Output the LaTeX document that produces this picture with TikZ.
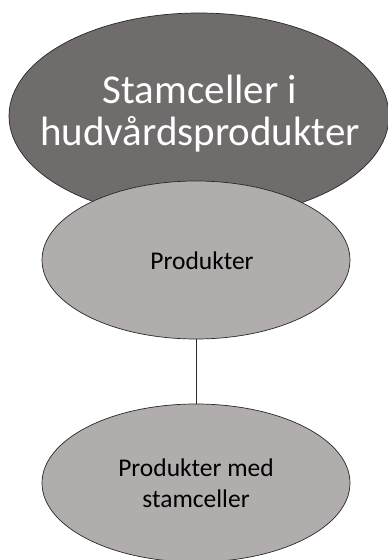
\documentclass[tikz,border=0pt]{standalone}
\usepackage{fontspec}
\setmainfont{Carlito}
\usetikzlibrary{shapes.geometric}
\definecolor{darkfill}{RGB}{112,108,108}
\definecolor{lightfill}{RGB}{177,173,173}
\definecolor{edge}{RGB}{40,40,40}
\tikzset{
  ellbase/.style={ellipse, draw=edge, line width=0.7pt, inner sep=0pt},
  bigell/.style={ellbase, fill=darkfill, minimum width=380pt, minimum height=206pt},
  smallell/.style={ellbase, fill=lightfill, minimum width=308pt, minimum height=158pt},
  bigtxt/.style={text=white, align=center, font=\fontsize{41}{42}\selectfont},
  smalltxt/.style={text=black, align=center, font=\fontsize{25.5}{31}\selectfont},
  conn/.style={draw=edge, line width=0.9pt}
}
\begin{document}
\begin{tikzpicture}[x=1pt,y=1pt]
\useasboundingbox (0,0) rectangle (388,560);
\fill[white] (0,0) rectangle (388,560);
\node[bigell] (top) at (199,444) {};
\node[bigtxt] (toptxt) at (200,446) {Stamceller i\\hudvårdsprodukter};
\node[smallell] (prod) at (196,300) {};
\node[smalltxt] (prodtxt) at (202,299) {Produkter};
\node[smallell] (med) at (196,77) {};
\node[smalltxt] (medtxt) at (196,77) {Produkter med\\stamceller};
\draw[conn] (prod.south) -- (med.north);
\end{tikzpicture}
\end{document}
